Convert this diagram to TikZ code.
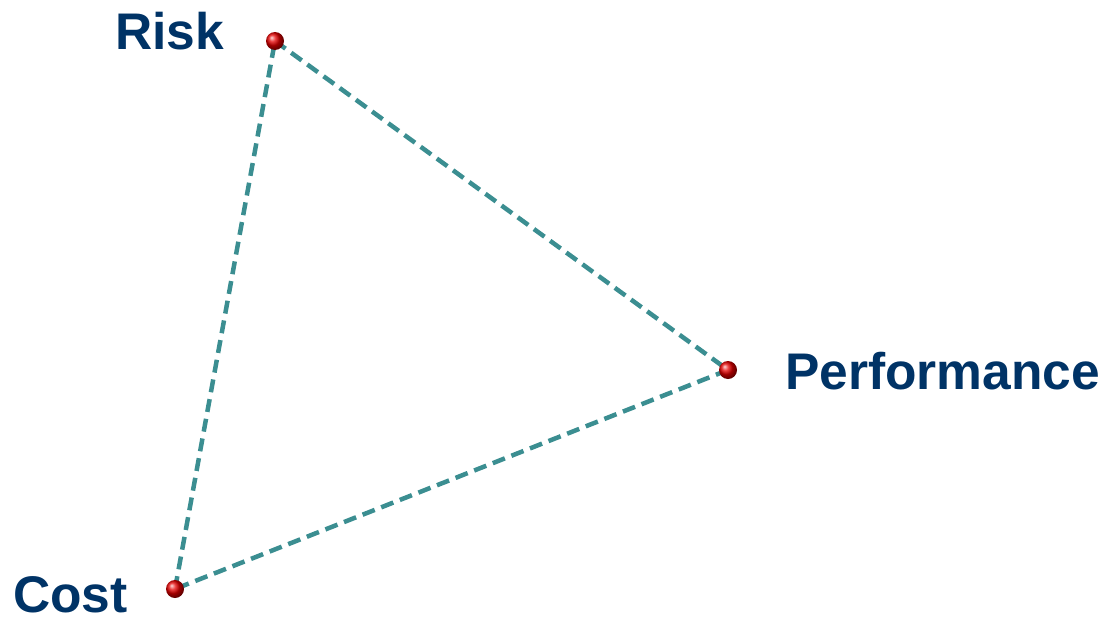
\documentclass[tikz,border=0pt]{standalone}
\usepackage{fontspec}
\setmainfont{Liberation Sans}
\usetikzlibrary{positioning, backgrounds, shadings}
\definecolor{navy}{RGB}{0,51,102}
\definecolor{tealline}{RGB}{59,142,145}

\begin{document}
\begin{tikzpicture}[
        x=1pt, y=-1pt,
        punct/.style={circle, inner sep=0pt, minimum size=18pt, shading=ball, ball color=red!90!black},
        eticheta/.style={font=\fontsize{51.5}{60}\selectfont\bfseries, text=navy, inner sep=0pt, anchor=base west},
        latura/.style={draw=tealline, line width=4.5pt, dash pattern=on 13pt off 7pt},
    ]
        \useasboundingbox (0,0) rectangle (1107,618);
        \node[punct] (risk) at (275,41) {};
        \node[punct] (perf) at (728,370) {};
        \node[punct] (cost) at (175,589) {};
        \node[eticheta] (trisk) at (115,50) {Risk};
        \node[eticheta] (tperf) at (785,389) {Performance};
        \node[eticheta] (tcost) at (13,612) {Cost};
        \begin{scope}[on background layer]
            \draw[latura] (risk.center) -- (perf.center);
            \draw[latura] (perf.center) -- (cost.center);
            \draw[latura] (cost.center) -- (risk.center);
        \end{scope}
    \end{tikzpicture}
\end{document}
